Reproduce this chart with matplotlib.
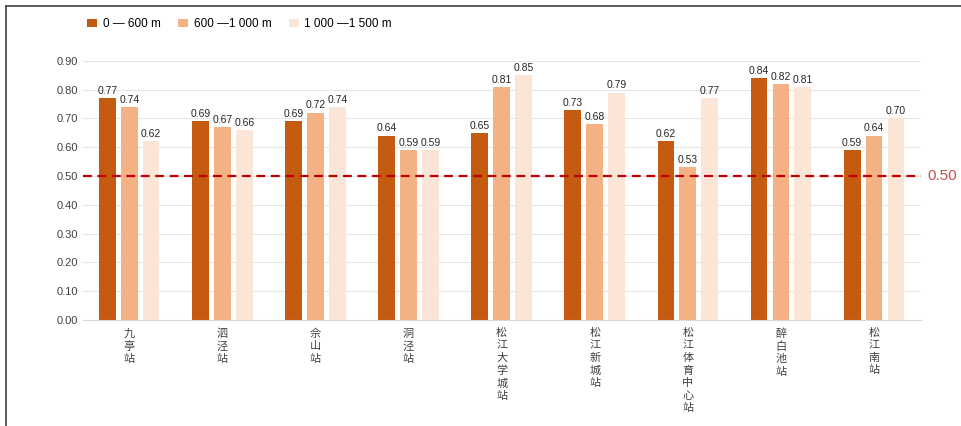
import matplotlib.pyplot as plt
import numpy as np
from matplotlib.lines import Line2D

plt.rcParams["font.family"] = ["Liberation Sans", "Noto Sans CJK SC", "DejaVu Sans"]

stations = ["九亭站", "泗泾站", "佘山站", "洞泾站", "松江大学城站",
            "松江新城站", "松江体育中心站", "醉白池站", "松江南站"]
series_names = ["0 — 600 m", "600 —1 000 m", "1 000 —1 500 m"]
near = [0.77, 0.69, 0.69, 0.64, 0.65, 0.73, 0.62, 0.84, 0.59]
mid = [0.74, 0.67, 0.72, 0.59, 0.81, 0.68, 0.53, 0.82, 0.64]
far = [0.62, 0.66, 0.74, 0.59, 0.85, 0.79, 0.77, 0.81, 0.70]
threshold = 0.50

colors = ["#C55A11", "#F4B183", "#FBE5D6"]

fig = plt.figure(figsize=(9.61, 4.26), dpi=100)
# frame lines only on the left and top edges, as in the source screenshot
fx, fy = 5.5 / 961, 1 - 5.5 / 426
fig.add_artist(Line2D([fx, fx], [0, fy], transform=fig.transFigure, color="#404040", lw=1.2))
fig.add_artist(Line2D([fx, 1], [fy, fy], transform=fig.transFigure, color="#404040", lw=1.2))

ax = fig.add_axes([0.086, 0.249, 0.872, 0.608])

x = np.arange(len(stations))
width = 0.18
step = 0.235
for i, (vals, name, c) in enumerate(zip([near, mid, far], series_names, colors)):
    pos = x + (i - 1) * step
    ax.bar(pos, vals, width, color=c, label=name, zorder=2)
    for px, v in zip(pos, vals):
        ax.text(px, v + 0.008, f"{v:.2f}", ha="center", va="bottom", fontsize=7.5,
                color="#262626", zorder=3)

ax.axhline(threshold, color="#C00000", linestyle=(0, (4, 2.5)), linewidth=1.6, zorder=4)
ax.text(1.008, threshold, f"{threshold:.2f}", transform=ax.get_yaxis_transform(),
        ha="left", va="center", fontsize=11, color="#C0504D")

ax.set_xlim(-0.5, len(stations) - 0.5)
ax.set_ylim(0, 0.9)
ax.set_yticks(np.arange(0, 0.91, 0.1))
ax.set_yticklabels([f"{v:.2f}" for v in np.arange(0, 0.91, 0.1)])
ax.yaxis.grid(True, color="#E6E6E6", linewidth=0.8, zorder=0)
ax.set_axisbelow(True)
ax.set_xticks(x)
ax.set_xticklabels(["\n".join(s) for s in stations], va="top", linespacing=1.3,
                   family=["Noto Sans CJK SC"], fontsize=8, color="#404040")
ax.tick_params(axis="both", length=0, labelsize=8, colors="#404040")
ax.tick_params(axis="x", pad=6)
for s in ["top", "right", "left"]:
    ax.spines[s].set_visible(False)
ax.spines["bottom"].set_color("#D9D9D9")

ax.legend(loc="lower left", bbox_to_anchor=(0.0, 1.10), ncol=3, frameon=False,
          fontsize=8.5, handlelength=0.8, handleheight=0.6, columnspacing=1.5,
          handletextpad=0.5, borderaxespad=0)

fig.savefig("out.png", dpi=100)
